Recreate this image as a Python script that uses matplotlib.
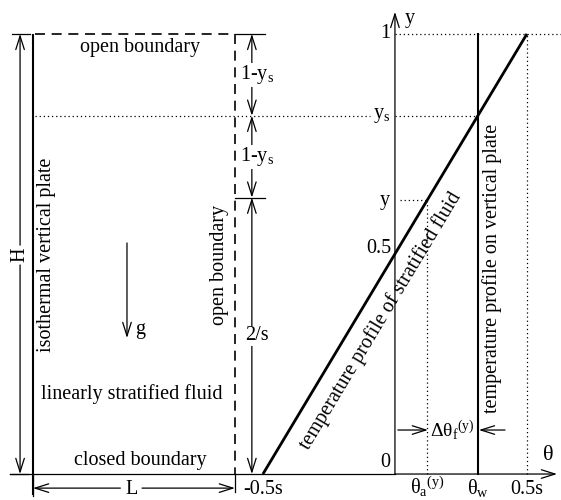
import matplotlib
matplotlib.use("Agg")
import matplotlib.pyplot as plt

plt.rcParams['font.family'] = ['Liberation Serif', 'DejaVu Serif']
plt.rcParams['mathtext.fontset'] = 'custom'
plt.rcParams['mathtext.rm'] = 'Liberation Serif'
plt.rcParams['mathtext.it'] = 'Liberation Serif:italic'
plt.rcParams['mathtext.bf'] = 'Liberation Serif:bold'

# ---- model values (theta in units of s, y dimensionless height) ----
theta_ticks = [-0.5, 0.121, 0.314, 0.5]
theta_labels = ['-0.5s', r'$\mathrm{θ_a{}^{(y)}}$', r'$\mathrm{θ_w}$', '0.5s']
y_ticks = [0, 0.5, 0.622, 0.814, 1]
y_labels = ['0', '0.5', 'y', r'$\mathrm{y_s}$', '1']
profile_theta = [-0.5, 0.5]
profile_y = [0, 1]
theta_w = 0.314
theta_a = 0.121
y_point = 0.622
y_s = 0.814

# ---- layout of the left schematic (same coordinate frame) ----
plate_x = -1.371
open_x = -0.606
H_x = -1.420
dim_x = -0.542
g_x = -1.015
L_y = -0.032
FS = 14.5
LW = 1.5
TW = 0.9
dotted = (0, (1, 2.3))
dashed = (0, (6, 4))

fig = plt.figure(figsize=(5.61, 5.00), dpi=100)
ax = fig.add_axes([0, 0, 1, 1])
ax.set_xlim(-1.496, 0.629)
ax.set_ylim(-0.059, 1.077)
ax.axis('off')


def arrow(x0, y0, x1, y1, lw=TW):
    ax.annotate('', xy=(x1, y1), xytext=(x0, y0),
                arrowprops=dict(arrowstyle='->,head_length=0.7,head_width=0.22',
                                lw=lw, color='black', shrinkA=0, shrinkB=0,
                                mutation_scale=14))


k = 'black'
# plate
ax.plot([plate_x, plate_x], [-0.048, 1], color=k, lw=LW, solid_capstyle='butt')
# top open boundary (dashed)
ax.plot([plate_x + 0.007, open_x], [1, 1], color=k, lw=1.2, ls=dashed)
ax.plot([open_x, -0.492], [1, 1], color=k, lw=TW)
# right open boundary (dashed) + solid extension below
ax.plot([open_x, open_x], [1, 0], color=k, lw=1.2, ls=dashed)
ax.plot([open_x, open_x], [0, -0.041], color=k, lw=TW)
# bottom closed boundary + theta axis
ax.plot([-1.458, 0], [0, 0], color=k, lw=TW)
arrow(0, 0, 0.614, 0)
# H dimension
ax.plot([-1.451, -1.383], [1, 1], color=k, lw=TW)
ax.plot([-1.458, -1.390], [0, 0], color=k, lw=TW)
arrow(H_x, 0.52, H_x, 1)
arrow(H_x, 0.475, H_x, 0)
ax.text(H_x, 0.498, 'H', rotation=90, ha='center', va='center', fontsize=FS)
# L dimension
ax.plot([plate_x, plate_x], [0, -0.05], color=k, lw=TW)
arrow(-1.040, L_y, plate_x, L_y)
arrow(-0.958, L_y, open_x, L_y)
ax.text(-0.996, -0.036, 'L', ha='center', va='center', fontsize=FS)
# ys dotted line across
ax.plot([plate_x + 0.007, -0.095], [y_s, y_s], color=k, lw=TW, ls=dotted)
ax.plot([0, theta_w], [y_s, y_s], color=k, lw=TW, ls=dotted)
# dimension arrows 1-ys, 1-ys, 2/s
y_low = 2 * y_s - 1
segs = [(1, y_s, r'1-$\mathrm{y_s}$'), (y_s, y_low, r'1-$\mathrm{y_s}$'), (y_low, 0, '2/s')]
for ya, yb, lab in segs:
    arrow(dim_x, (ya + yb) / 2, dim_x, ya)
    arrow(dim_x, (ya + yb) / 2, dim_x, yb)
    ax.text(dim_x + 0.02, (ya + yb) / 2, lab, ha='center', va='center', fontsize=FS,
            bbox=dict(facecolor='white', edgecolor='none', pad=0.5))
ax.plot([open_x, -0.492], [y_low, y_low], color=k, lw=TW)
# gravity
arrow(g_x, 0.525, g_x, 0.309)
ax.text(-0.966, 0.328, 'g', ha='center', va='center', fontsize=FS)

# left texts
ax.text(-0.966, 0.970, 'open boundary', ha='center', va='center', fontsize=FS)
ax.text(-1.318, 0.498, 'isothermal vertical plate', rotation=90, ha='center', va='center', fontsize=FS)
ax.text(-0.663, 0.475, 'open boundary', rotation=90, ha='center', va='center', fontsize=FS)
ax.text(-0.996, 0.182, 'linearly stratified fluid', ha='center', va='center', fontsize=FS)
ax.text(-0.966, 0.030, 'closed boundary', ha='center', va='center', fontsize=FS)

# ---- right panel: theta-y diagram ----
arrow(0, 0, 0, 1.05)
ax.text(0.057, 1.036, 'y', ha='center', va='center', fontsize=FS)
ax.text(0.58, 0.043, 'θ', ha='center', va='center', fontsize=FS + 1.5)
ax.plot(profile_theta, profile_y, color=k, lw=2.0, solid_capstyle='butt')
ax.plot([theta_w, theta_w], [0, 1], color=k, lw=LW)
# dotted guides
ax.plot([0, 0.629], [1, 1], color=k, lw=TW, ls=dotted)
ax.plot([0.5, 0.5], [0, 1], color=k, lw=TW, ls=dotted)
ax.plot([0.02, theta_a], [y_point, y_point], color=k, lw=TW, ls=dotted)
ax.plot([theta_a, theta_a], [0, y_point], color=k, lw=TW, ls=dotted)

# tick labels
for yv, lab in zip(y_ticks, y_labels):
    if yv == 0:
        ax.text(-0.019, yv + 0.005, lab, ha='right', va='bottom', fontsize=FS)
    elif yv == 0.5:
        ax.text(-0.012, yv + 0.012, lab, ha='right', va='center', fontsize=FS)
    else:
        ax.text(-0.019, yv, lab, ha='right', va='center', fontsize=FS)
for tv, lab in zip(theta_ticks, theta_labels):
    ax.text(tv, -0.045, lab, ha='center', va='baseline', fontsize=FS)

# profile labels
ax.text(-0.054, 0.3485, 'temperature profile of stratified fluid', rotation=59.04,
        rotation_mode='anchor', ha='center', va='center', fontsize=FS)
ax.text(0.367, 0.468, 'temperature profile on vertical plate', rotation=90,
        ha='center', va='center', fontsize=FS)
# delta theta_f
arrow(0.011, 0.1, 0.125, 0.1)
arrow(0.417, 0.1, 0.318, 0.1)
ax.text(0.216, 0.1, r'$\mathrm{Δθ_f{}^{(y)}}$', ha='center', va='center', fontsize=FS - 0.5)

fig.savefig('out.png', dpi=100)
